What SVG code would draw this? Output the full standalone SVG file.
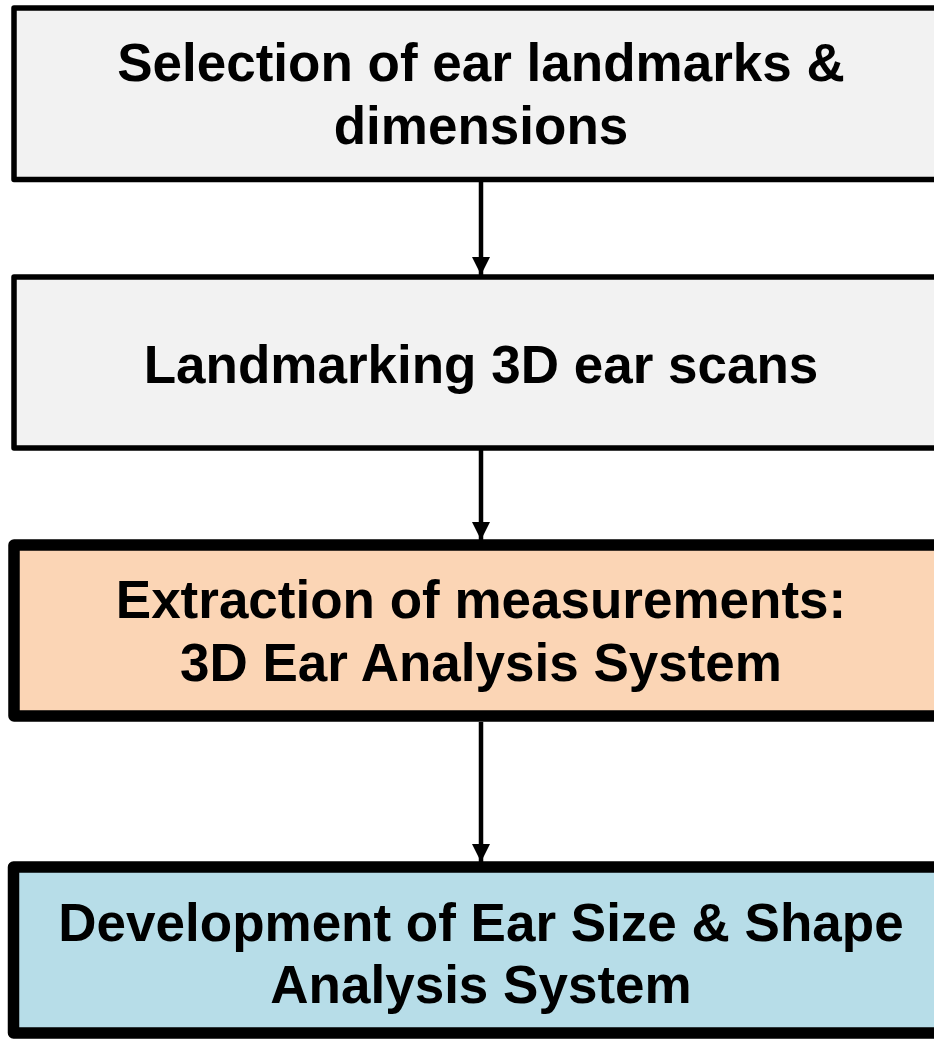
<svg xmlns="http://www.w3.org/2000/svg" width="934" height="1039" viewBox="0 0 934 1039">
<style>
.t{font-family:"Liberation Sans",Arial,sans-serif;font-weight:bold;font-size:53px;fill:#000;text-anchor:middle}
.thin{stroke:#000;stroke-width:5.5;stroke-linejoin:round}
.thick{stroke:#000;stroke-width:11.5;stroke-linejoin:round}
.c{stroke:#000;stroke-width:4.5;fill:none}
</style>
<defs>
<marker id="ah" markerUnits="userSpaceOnUse" markerWidth="20" markerHeight="18" refX="18" refY="9" orient="auto">
<path d="M0,0 L18,9 L0,18 Z" fill="#000"/>
</marker>
</defs>
<rect width="934" height="1039" fill="#fff"/>
<g id="connectors">
<line class="c" x1="481" y1="182" x2="481" y2="275" marker-end="url(#ah)"/>
<line class="c" x1="481" y1="450" x2="481" y2="540" marker-end="url(#ah)"/>
<line class="c" x1="481" y1="722" x2="481" y2="862" marker-end="url(#ah)"/>
</g>
<g id="n1">
<rect class="thin" x="14" y="8" width="934" height="171.5" fill="#f2f2f2"/>
<text class="t" x="481" y="81">Selection of ear landmarks &amp;</text>
<text class="t" x="481" y="144">dimensions</text>
</g>
<g id="n2">
<rect class="thin" x="14" y="277" width="934" height="171" fill="#f2f2f2"/>
<text class="t" x="481" y="383">Landmarking 3D ear scans</text>
</g>
<g id="n3">
<rect class="thick" x="14" y="545" width="934" height="171" fill="#fbd5b5"/>
<text class="t" x="481" y="618">Extraction of measurements:</text>
<text class="t" x="481" y="681">3D Ear Analysis System</text>
</g>
<g id="n4">
<rect class="thick" x="13.5" y="867" width="934" height="166" fill="#b7dde8"/>
<text class="t" x="481" y="941">Development of Ear Size &amp; Shape</text>
<text class="t" x="481" y="1003">Analysis System</text>
</g>
</svg>
